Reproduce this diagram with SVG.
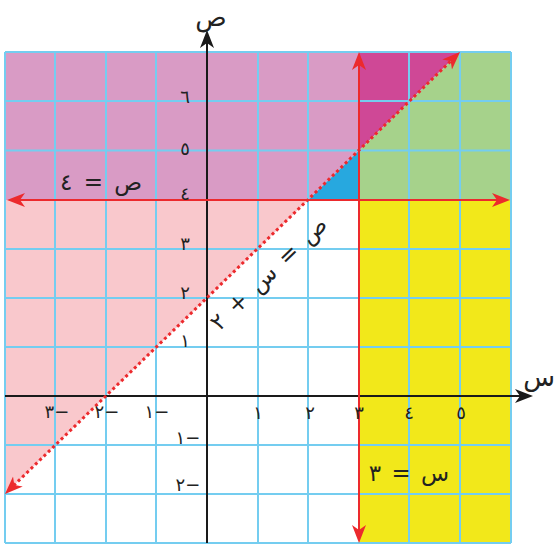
<svg xmlns="http://www.w3.org/2000/svg" width="557" height="545" viewBox="0 0 557 545">
<style>
.grid{stroke:#74cdf0;stroke-width:2;fill:none}
.axis{stroke:#1a1a1a;stroke-width:2;fill:none}
.red{stroke:#ec2a2d;stroke-width:2;fill:none}
.dot{stroke:#ec2a2d;stroke-width:3;fill:none;stroke-dasharray:3 3}
text{font-family:"DejaVu Sans",sans-serif;fill:#222}
.tick{font-size:18px;text-anchor:middle}
.eq{font-size:23px;text-anchor:middle}
.ax{font-size:26px;text-anchor:middle}
</style>
<defs>
<marker id="ra" viewBox="0 -8 20 16" refX="6" refY="0" markerWidth="20" markerHeight="16" markerUnits="userSpaceOnUse" orient="auto-start-reverse">
<path d="M0,-7 L18,0 L0,7 L5,0 Z" fill="#ec2a2d"/>
</marker>
<marker id="ba" viewBox="0 -8 20 16" refX="6" refY="0" markerWidth="20" markerHeight="16" markerUnits="userSpaceOnUse" orient="auto">
<path d="M0,-7 L18,0 L0,7 L5,0 Z" fill="#1a1a1a"/>
</marker>
</defs>
<rect width="557" height="545" fill="#fff"/>
<g id="regions">
<polygon id="pink" points="5,200 308,200 5,494" fill="#f9c8cc"/>
<polygon id="mauve" points="5,52 359,52 359,150.5 308,200 5,200" fill="#d99bc5"/>
<polygon id="blue" points="308,200 359,200 359,150.5" fill="#27a8df"/>
<polygon id="magenta" points="359,52 460,52 359,150.5" fill="#cf4896"/>
<polygon id="green" points="460,52 511,52 511,200 359,200 359,150.5" fill="#a6d28b"/>
<polygon id="yellow" points="359,200 511,200 511,543 359,543" fill="#f2e81a"/>
</g>
<g id="grid" class="grid">
<path d="M5,52V543M55,52V543M106,52V543M156,52V543M258,52V543M308,52V543M409,52V543M460,52V543M511,52V543"/>
<path d="M5,52H511M5,101H511M5,150.5H511M5,249H511M5,298H511M5,347H511M5,445H511M5,494H511M5,543H511"/>
</g>
<g id="connectors">
<line id="x-axis" class="axis" x1="5" y1="396" x2="521" y2="396" marker-end="url(#ba)"/>
<line id="y-axis" class="axis" x1="207" y1="543" x2="207" y2="42" marker-end="url(#ba)"/>
<line id="line-y4" class="red" x1="19" y1="200" x2="498" y2="200" marker-start="url(#ra)" marker-end="url(#ra)"/>
<line id="line-x3" class="red" x1="359" y1="64" x2="359" y2="531" marker-start="url(#ra)" marker-end="url(#ra)"/>
<line id="line-diag" class="dot" x1="13.6" y1="485.6" x2="451.4" y2="60.4" marker-start="url(#ra)" marker-end="url(#ra)"/>
</g>
<g id="axis-labels">
<text class="ax" x="211" y="26">ص</text>
<text class="ax" x="539" y="386">س</text>
</g>
<g id="y-ticks">
<text class="tick" x="185" y="103">٦</text>
<text class="tick" x="185" y="155">٥</text>
<text class="tick" x="185" y="200">٤</text>
<text class="tick" x="185" y="250">٣</text>
<text class="tick" x="185" y="299">٢</text>
<text class="tick" x="185" y="347">١</text>
<text class="tick" x="188" y="444">١−</text>
<text class="tick" x="188" y="491">٢−</text>
</g>
<g id="x-ticks">
<text class="tick" x="57" y="418">٣−</text>
<text class="tick" x="107" y="418">٢−</text>
<text class="tick" x="157" y="418">١−</text>
<text class="tick" x="258" y="419">١</text>
<text class="tick" x="310" y="419">٢</text>
<text class="tick" x="359" y="419">٣</text>
<text class="tick" x="409" y="419">٤</text>
<text class="tick" x="461" y="419">٥</text>
</g>
<g id="equations">
<text id="eq-y4" class="eq" x="101" y="190" word-spacing="4">ص = ٤</text>
<text id="eq-x3" class="eq" x="409" y="481" word-spacing="3">س = ٣</text>
<text id="eq-diag" class="eq" transform="translate(274,279) rotate(-44)" x="0" y="0" word-spacing="4">ص = س + ٢</text>
</g>
</svg>
